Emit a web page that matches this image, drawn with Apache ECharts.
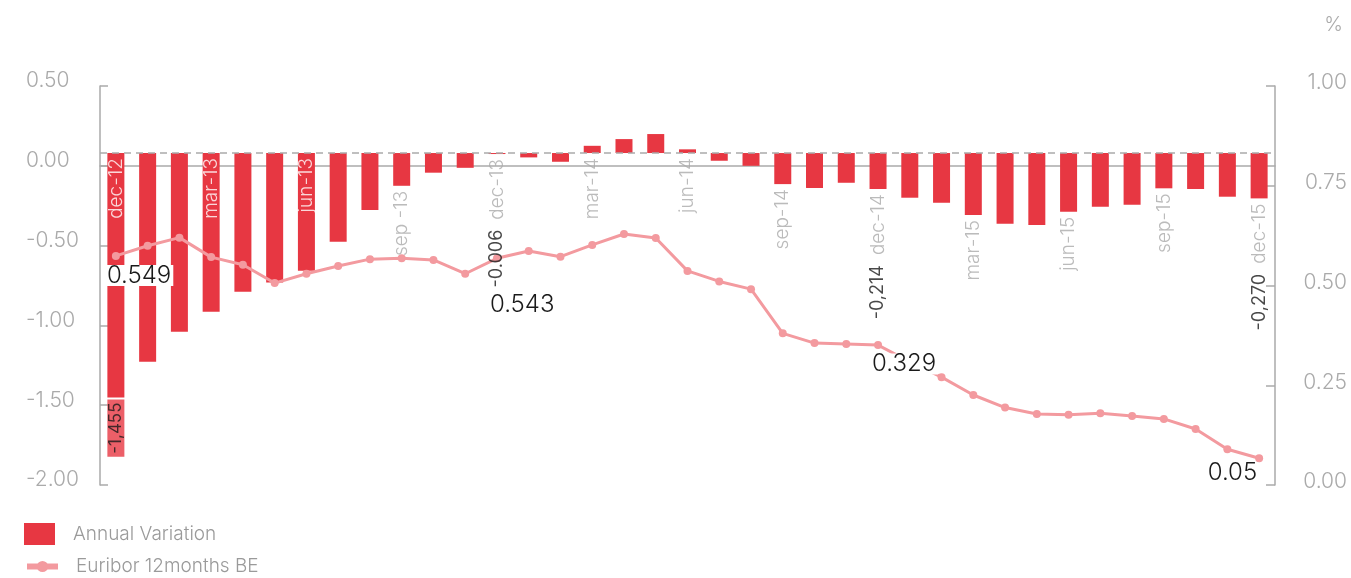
<!DOCTYPE html>
<html>
<head>
<meta charset="utf-8">
<script src="https://cdn.jsdelivr.net/npm/echarts@6/dist/echarts.min.js"></script>
<style>
html,body{margin:0;padding:0;background:#fff;}
#chart{width:1351px;height:578px;}
</style>
</head>
<body>
<div id="chart"></div>
<script>
const categories = ['dec-12','jan-13','feb-13','mar-13','apr-13','may-13','jun-13','jul-13','aug-13','sep -13','oct-13','nov-13','dec-13','jan-14','feb-14','mar-14','apr-14','may-14','jun-14','jul-14','aug-14','sep-14','oct-14','nov-14','dec-14','jan-15','feb-15','mar-15','apr-15','may-15','jun-15','jul-15','aug-15','sep-15','oct-15','nov-15','dec-15'];
const annualVariation = [-1.455,-1.242,-1.064,-0.945,-0.826,-0.770,-0.701,-0.528,-0.339,-0.195,-0.117,-0.088,-0.006,-0.026,-0.052,0.043,0.083,0.113,0.022,-0.046,-0.076,-0.185,-0.208,-0.177,-0.214,-0.266,-0.296,-0.369,-0.421,-0.429,-0.349,-0.320,-0.308,-0.210,-0.214,-0.260,-0.270];
const euribor = [0.549,0.574,0.594,0.546,0.527,0.482,0.505,0.524,0.541,0.543,0.539,0.505,0.543,0.561,0.547,0.576,0.603,0.593,0.512,0.486,0.467,0.358,0.334,0.332,0.329,0.288,0.250,0.206,0.175,0.159,0.157,0.161,0.154,0.147,0.122,0.072,0.05];
const labelledCategories = [0,3,6,9,12,15,18,21,24,27,30,33,36];
const barValueLabels = {0:'-1,455', 12:'-0.006', 24:'-0,214', 36:'-0,270'};
const lineValueLabels = {0:'0.549', 12:'0.543', 24:'0.329', 36:'0.05'};
const leftAxisRange = [-2, 0.5, 0.5];
const rightAxisRange = [0, 1, 0.25];
const seriesNames = ['Annual Variation', 'Euribor 12months BE'];

const RED = '#E73742', PINK = '#F39A9F', GREY = '#AAAAAA';
const FONT = 'Inter';

const catLabelData = labelledCategories.map(function(i){
  const v = annualVariation[i];
  const inside = v < -0.45;
  const anchor = inside ? 0 : Math.min(v, 0);
  let fmt;
  if (barValueLabels[i] !== undefined && !inside) {
    fmt = '{v|' + barValueLabels[i] + '}{c|' + categories[i] + '}';
  } else {
    fmt = '{c|' + categories[i] + '}';
  }
  return {
    value: [i, anchor],
    label: {
      formatter: fmt,
      rich: {
        c: {color: inside ? '#FFFFFF' : GREY, fontSize: 19, fontFamily: FONT, fontWeight: 300, padding: [0,0,0,10]},
        v: {color: '#1A1A1A', fontSize: 18, fontFamily: FONT, fontWeight: 400}
      }
    }
  };
});

const boxLabelData = Object.keys(barValueLabels).map(Number).filter(function(i){
  return annualVariation[i] < -0.45;
}).map(function(i){
  return {value: [i, annualVariation[i]], label: {formatter: barValueLabels[i]}};
});

const lineOffsets = {0:[-11,19.5,'left'], 12:[-9,46,'left'], 24:[-8,19,'left'], 36:[0,15,'right']};
const lineData = euribor.map(function(v, i){
  if (lineValueLabels[i] === undefined) return v;
  const o = lineOffsets[i];
  return {
    value: v,
    label: {
      show: true, position: 'inside', formatter: lineValueLabels[i],
      align: o[2], verticalAlign: 'middle', offset: [o[0], o[1]],
      color: '#1A1A1A', fontSize: 24, fontFamily: FONT, fontWeight: 300,
      backgroundColor: '#FFFFFF', padding: [0,2,0,2], lineHeight: 21
    }
  };
});

const legendBase = {
  orient: 'vertical', left: 24, padding: 0, itemWidth: 31, itemHeight: 22,
  textStyle: {color: '#9A9A9A', fontSize: 19, fontFamily: FONT, fontWeight: 300, padding: [0,0,0,13]}
};

const chart = echarts.init(document.getElementById('chart'), null, {renderer: 'canvas'});
chart.setOption({
  animation: false,
  backgroundColor: '#FFFFFF',
  title: {text: '%', right: 3, top: 10, textStyle: {color: GREY, fontSize: 20, fontWeight: 300, fontFamily: FONT}},
  grid: {left: 100, right: 76, top: 86, bottom: 93, containLabel: false},
  legend: [
    Object.assign({}, legendBase, {top: 523, data: [{name: seriesNames[0], icon: 'rect'}]}),
    Object.assign({}, legendBase, {top: 557, itemHeight: 14,
      data: [{name: seriesNames[1], lineStyle: {width: 6, type: 'solid', color: PINK}, itemStyle: {color: PINK}}]})
  ],
  xAxis: {
    type: 'category', data: categories, boundaryGap: true,
    axisLine: {show: true, lineStyle: {color: GREY, width: 1.5}},
    axisTick: {show: false}, axisLabel: {show: false}, splitLine: {show: false}
  },
  yAxis: [
    {type: 'value', position: 'left', min: leftAxisRange[0], max: leftAxisRange[1], interval: leftAxisRange[2],
     axisLine: {show: true, lineStyle: {color: GREY, width: 1.5}},
     axisTick: {show: true, inside: true, length: 8, lineStyle: {color: GREY, width: 1.5}},
     splitLine: {show: false},
     axisLabel: {align: 'left', margin: 74, color: GREY, fontSize: 21, fontFamily: FONT, fontWeight: 300,
       verticalAlign: 'bottom', lineHeight: 10, formatter: function(v){return v.toFixed(2);}}},
    {type: 'value', position: 'right', min: rightAxisRange[0], max: rightAxisRange[1], interval: rightAxisRange[2],
     axisLine: {show: true, lineStyle: {color: GREY, width: 1.5}},
     axisTick: {show: true, inside: true, length: 9, lineStyle: {color: GREY, width: 1.5}},
     splitLine: {show: false},
     axisLabel: {align: 'right', margin: 72, color: GREY, fontSize: 21, fontFamily: FONT, fontWeight: 300,
       verticalAlign: 'bottom', lineHeight: 6, formatter: function(v){return v.toFixed(2);}}},
    {type: 'value', show: false, position: 'left', min: -1.976, max: 0.399, splitLine: {show: false}},
    {type: 'value', show: false, position: 'right', min: -0.016, max: 0.968, splitLine: {show: false}}
  ],
  series: [
    {
      name: seriesNames[0], type: 'bar', yAxisIndex: 2, data: annualVariation, barWidth: 17,
      itemStyle: {color: RED},
      markLine: {silent: true, symbol: 'none', label: {show: false},
        lineStyle: {color: GREY, type: [7, 5], width: 1.5}, data: [{yAxis: 0}]},
      z: 2
    },
    {
      name: seriesNames[1], type: 'line', yAxisIndex: 3, data: lineData,
      symbol: 'circle', symbolSize: 8, lineStyle: {color: PINK, width: 3},
      itemStyle: {color: PINK}, z: 4
    },
    {
      name: 'catLabels', type: 'scatter', yAxisIndex: 2, data: catLabelData, symbolSize: 0, silent: true, z: 5,
      label: {show: true, position: 'bottom', distance: 5, rotate: 90, align: 'right', verticalAlign: 'middle'}
    },
    {
      name: 'boxLabels', type: 'scatter', yAxisIndex: 2, data: boxLabelData, symbolSize: 0, silent: true, z: 5,
      label: {show: true, position: 'bottom', distance: 2, rotate: 90, align: 'right', verticalAlign: 'middle',
        backgroundColor: RED, color: '#1A1A1A', fontSize: 17, fontFamily: FONT, fontWeight: 400,
        lineHeight: 13, padding: [2,3,2,3]}
    }
  ]
});
</script>
</body>
</html>
